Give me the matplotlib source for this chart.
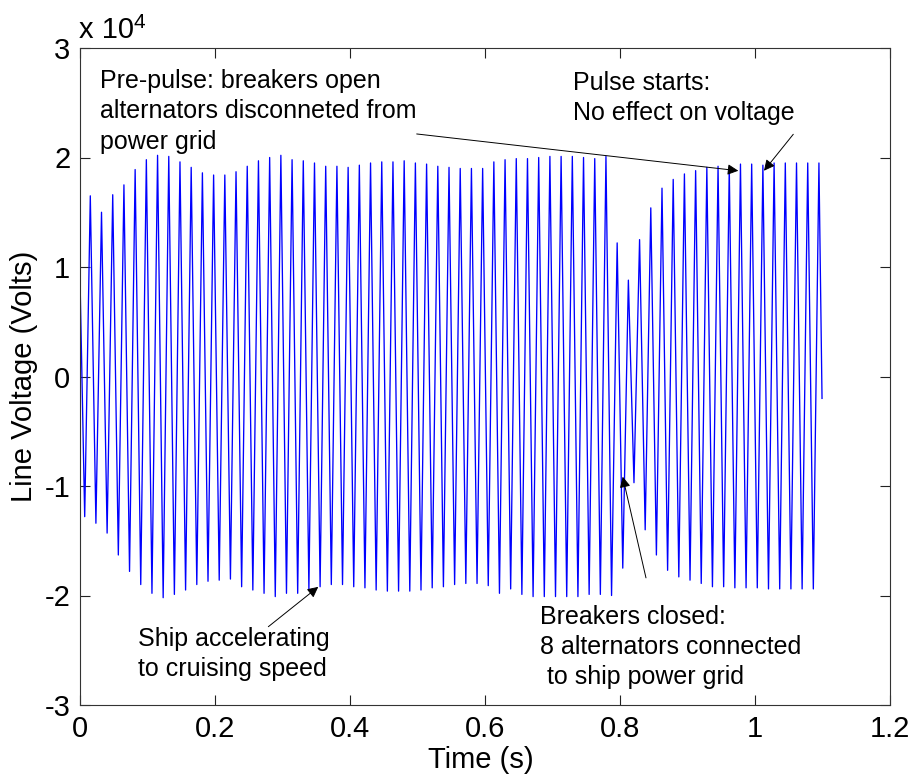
import numpy as np
import matplotlib

matplotlib.use("Agg")
import matplotlib.pyplot as plt

plt.rcParams["font.family"] = ["Liberation Sans", "DejaVu Sans"]
plt.rcParams["axes.unicode_minus"] = False

# line voltage, x 1e4 V: one positive peak and one negative trough per 60 Hz cycle
peak_volts = [
    1.65, 1.50, 1.66, 1.75, 1.89, 1.98, 2.02, 2.01, 1.96, 1.91,
    1.86, 1.84, 1.84, 1.87, 1.92, 1.97, 2.00, 2.02, 1.98, 1.97,
    1.95, 1.92, 1.92, 1.91, 1.93, 1.95, 1.96, 1.96, 1.97, 1.95,
    1.94, 1.92, 1.91, 1.90, 1.90, 1.90, 1.96, 1.98, 1.99, 1.99,
    2.00, 2.01, 2.01, 2.01, 2.00, 1.99, 2.01, 1.22, 0.88, 1.25,
    1.54, 1.72, 1.80, 1.85, 1.88, 1.91, 1.92, 1.91, 1.94, 1.94,
    1.93, 1.95, 1.95, 1.95, 1.95, 1.95,
]
trough_volts = [
    -1.28, -1.34, -1.43, -1.63, -1.78, -1.90, -1.98, -2.02, -1.99, -1.95,
    -1.90, -1.87, -1.86, -1.85, -1.92, -1.95, -1.98, -2.01, -1.98, -1.98,
    -1.95, -1.92, -1.90, -1.90, -1.92, -1.93, -1.95, -1.96, -1.96, -1.96,
    -1.95, -1.93, -1.92, -1.90, -1.89, -1.89, -1.91, -1.98, -1.94, -1.99,
    -2.01, -2.01, -2.01, -2.01, -2.01, -1.99, -1.99, -2.00, -1.75, -0.97,
    -1.40, -1.63, -1.77, -1.83, -1.86, -1.89, -1.92, -1.92, -1.93, -1.93,
    -1.93, -1.94, -1.94, -1.94, -1.94, -1.94,
]
cycle_period = 0.016607  # s
first_trough_time = 0.00696  # s
start_volts = 0.90
end_time, end_volts = 1.0993, -0.20

x_ticks = [0, 0.2, 0.4, 0.6, 0.8, 1.0, 1.2]
x_tick_labels = ["0", "0.2", "0.4", "0.6", "0.8", "1", "1.2"]
y_ticks = [-3, -2, -1, 0, 1, 2, 3]

trough_t = first_trough_time + cycle_period * np.arange(len(trough_volts))
peak_t = trough_t + cycle_period / 2
t = np.concatenate([[0.0], np.column_stack([trough_t, peak_t]).ravel(), [end_time]])
v = np.concatenate([[start_volts], np.column_stack([trough_volts, peak_volts]).ravel(), [end_volts]]) * 1e4

W, H = 915, 782
fig = plt.figure(figsize=(W / 100, H / 100), dpi=100)
ax = fig.add_axes([80 / W, 1 - 705 / H, 810 / W, 657 / H])
ax.plot(t, v, color="#0000ff", lw=0.95)

ax.set_xlim(0, 1.2)
ax.set_ylim(-3e4, 3e4)
ax.set_xticks(x_ticks)
ax.set_xticklabels(x_tick_labels)
ax.set_yticks([y * 1e4 for y in y_ticks])
ax.set_yticklabels([str(y) for y in y_ticks])
ax.tick_params(direction="in", top=True, right=True, length=7, width=0.8,
               labelsize=21, pad=7, colors="#222222", labelcolor="black")
for sp in ax.spines.values():
    sp.set_linewidth(0.8)
    sp.set_color("#333333")

# exponent label above the y axis
fig.text(79 / W, 1 - 38 / H, "x 10", fontsize=21, va="baseline")
fig.text(133 / W, 1 - 28 / H, "4", fontsize=15, va="baseline")

fig.text(24 / W, 1 - 376 / H, "Line Voltage (Volts)", fontsize=21,
         rotation=90, ha="center", va="center")
fig.text(481 / W, 1 - 768 / H, "Time (s)", fontsize=21, ha="center", va="baseline")

# notes are anchored on the baseline of their last line
note_kw = dict(fontsize=18, va="baseline", ha="left", linespacing=1.32)
ax.text(0.0296, 2.082e4, "Pre-pulse: breakers open\nalternators disconneted from\npower grid", **note_kw)
ax.text(0.730, 2.343e4, "Pulse starts:\nNo effect on voltage", **note_kw)
ax.text(0.0864, -2.734e4, "Ship accelerating\nto cruising speed", **note_kw)
ax.text(0.6815, -2.809e4, "Breakers closed:\n8 alternators connected\n to ship power grid", **note_kw)

arrow_kw = dict(arrowstyle="-|>", color="black", lw=0.7, mutation_scale=16,
                shrinkA=0, shrinkB=0)
ax.annotate("", xy=(0.9753, 1.879e4), xytext=(0.4988, 2.215e4), arrowprops=arrow_kw)
ax.annotate("", xy=(1.0133, 1.879e4), xytext=(1.0567, 2.212e4), arrowprops=arrow_kw)
ax.annotate("", xy=(0.353, -1.921e4), xytext=(0.279, -2.285e4), arrowprops=arrow_kw)
ax.annotate("", xy=(0.804, -0.915e4), xytext=(0.8385, -1.839e4), arrowprops=arrow_kw)

fig.savefig("out.png", dpi=100)
